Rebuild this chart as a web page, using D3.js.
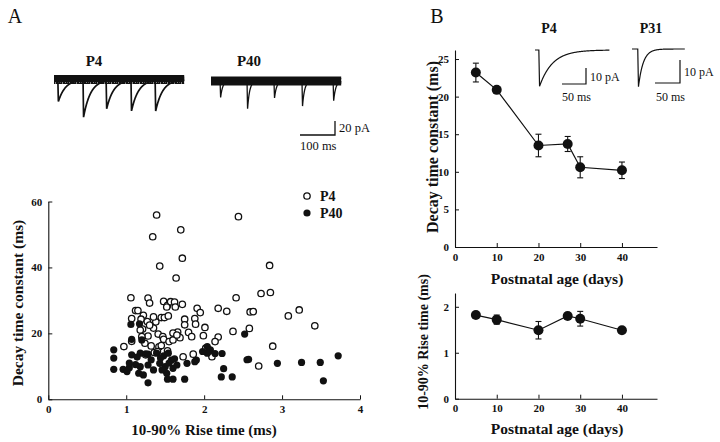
<!DOCTYPE html>
<html><head><meta charset="utf-8">
<script src="https://cdn.jsdelivr.net/npm/d3@7"></script>
<style>
body{margin:0;background:#fff}
svg{display:block}
text{font-family:"Liberation Serif","Times New Roman",serif;fill:#111}
</style>
</head><body><svg id="c" width="720" height="442"></svg>
<script>
// ---------- DATA ----------
// Panel A scatter: [rise time (ms), decay time constant (ms)]
const p4Points = [
 [1.39,55.9],[2.44,55.4],[1.70,51.4],[1.34,49.3],[1.72,42.8],[1.43,40.4],[2.84,40.6],[1.64,36.8],
 [1.06,30.8],[1.28,30.7],[1.30,29.2],[1.48,29.7],[1.53,28.5],[1.57,29.6],[1.62,29.5],[1.63,28.0],[1.72,28.8],[1.52,28.0],
 [2.41,30.8],[2.73,32.1],[2.85,32.4],
 [1.12,26.9],[1.15,26.9],[1.22,25.5],[1.07,24.5],[1.19,24.3],[1.27,23.6],[1.35,21.6],[1.21,21.3],[1.38,23.5],[1.45,24.8],[1.49,24.8],[1.54,25.3],
 [1.41,19.8],[1.28,19.2],[1.47,19.0],[1.48,18.2],[1.55,17.5],[1.24,17.0],[0.97,16.0],[1.32,16.2],[1.42,15.9],[1.36,14.2],[1.53,14.7],[1.07,17.6],
 [1.75,24.3],[1.75,22.6],[1.88,24.5],[1.89,22.8],[1.80,20.3],[1.66,20.4],[1.69,18.7],[1.84,19.0],[1.60,20.1],
 [1.91,27.6],[1.95,26.3],[2.01,21.8],[1.99,19.3],[2.18,27.6],[2.29,26.7],[2.18,18.9],[2.14,17.5],[2.02,15.5],[2.10,12.9],[1.86,13.7],[1.73,12.9],
 [2.37,20.6],[2.59,26.5],[2.63,26.6],[2.58,21.5],[3.08,25.3],[3.22,27.1],[3.42,22.3],[2.88,16.1],[2.70,10.1],
 [1.18,21.0],[1.30,22.5],[1.25,13.5],[1.40,14.5],[1.45,16.3],[1.60,18.0],[1.65,19.5],[1.35,25.0],[1.20,19.0]
];
const p40Points = [
 [1.06,22.7],[1.17,22.9],[1.07,18.2],[1.20,18.0],[0.84,15.0],[0.84,12.5],[0.84,9.1],[0.96,9.1],[1.01,8.4],[1.04,9.6],
 [1.07,13.5],[1.04,11.0],[1.18,14.0],[1.25,13.8],[1.28,13.7],[1.18,9.9],[1.16,7.9],[1.22,7.4],[1.28,10.4],[1.35,8.9],
 [1.28,5.0],[1.39,14.0],[1.48,13.2],[1.50,9.9],[1.52,7.9],[1.53,6.1],[1.58,11.9],[1.60,9.4],[1.60,6.1],[1.65,10.4],
 [1.75,6.1],[1.78,10.9],[1.88,11.4],[1.90,11.9],[1.54,14.0],[1.43,10.9],[1.46,8.9],[1.12,10.5],[1.14,12.8],[1.32,12.0],
 [1.44,12.5],[1.55,11.0],[1.62,12.3],
 [2.52,19.8],[2.04,16.0],[2.08,15.0],[2.04,14.0],[2.14,13.9],[2.23,13.9],[2.25,9.3],[2.22,6.8],[2.36,6.8],
 [2.55,12.0],[2.57,12.1],[2.94,10.9],[3.25,11.2],[3.49,11.2],[3.72,13.2],[3.53,5.6],[1.98,14.5]
];
const scatterXTicks = [0,1,2,3,4];
const scatterYTicks = [0,20,40,60];
const legendLabels = ["P4","P40"];

// Panel B: postnatal age vs mean ± error
const ages = [5,10,20,27,30,40];
const decayMean = [23.2,20.9,13.5,13.7,10.6,10.2];
const decayErr  = [1.25,0.35,1.5,1.0,1.4,1.1];
const riseMean  = [1.82,1.72,1.49,1.80,1.74,1.49];
const riseErr   = [0.07,0.10,0.19,0.07,0.16,0.06];
const ageTicks   = [0,10,20,30,40];
const decayTicks = [0,5,10,15,20,25];
const riseTicks  = [0,1,2];

// Example traces: event onset (ms), amplitude (pA), decay tau (ms)
const traceP4Onsets = [11,83,149,220,289];
const traceP4Amps   = [34,57,43,47,47];
const traceP4Tau    = 20;
const traceP40Onsets = [26,103,180,260,349];
const traceP40Amps   = [30,51,31,46,36];
const traceP40Tau    = 6;
const traceLength    = 372; // ms
const insetP4  = {onset:8,  amp:24, tau:27, length:155};
const insetP31 = {onset:12, amp:19, tau:10, length:110};

// ---------- DRAW ----------
const svg = d3.select("#c");
const black = "#111";

// texture for the noisy baseline band of the recordings
const pat = svg.append("defs").append("pattern").attr("id","noise")
  .attr("patternUnits","userSpaceOnUse").attr("width",7).attr("height",9);
[[0.5,1,8],[1.5,0,6.5],[2.5,2,9],[3.5,0.5,7.5],[4.5,1.5,8.5],[5.5,0,7],[6.5,2.5,8]].forEach(s =>
  pat.append("line").attr("x1",s[0]).attr("x2",s[0]).attr("y1",s[1]).attr("y2",s[2])
     .attr("stroke",black).attr("stroke-width",1.1));

function axis(gen, g, ticks, fs) {
  g.call(gen.tickValues(ticks).tickSizeInner(-4).tickSizeOuter(0).tickPadding(6).tickFormat(d3.format("d")));
  g.select(".domain").attr("stroke", black).attr("stroke-width", 1.1);
  g.selectAll(".tick line").attr("stroke", black).attr("stroke-width", 1);
  g.selectAll(".tick text").attr("font-size", fs).attr("font-weight", "bold")
    .attr("font-family", '"Liberation Serif",serif').attr("fill", black);
}
function label(x, y, txt, fs, opts = {}) {
  const t = svg.append("text").attr("x", x).attr("y", y).text(txt)
    .attr("font-size", fs).attr("font-weight", opts.weight || "bold")
    .attr("text-anchor", opts.anchor || "middle").attr("dominant-baseline", "central");
  if (opts.rotate) t.attr("transform", `rotate(-90,${x},${y})`);
  return t;
}

// ---- Panel A scatter ----
const sx = d3.scaleLinear().domain([0,4]).range([48.3,360]);
const sy = d3.scaleLinear().domain([0,60]).range([399.3,201.5]);
axis(d3.axisBottom(sx), svg.append("g").attr("transform","translate(0,399.3)"), scatterXTicks, 11);
axis(d3.axisLeft(sy), svg.append("g").attr("transform","translate(48.3,0)"), scatterYTicks, 11);
svg.append("g").selectAll("circle").data(p4Points).join("circle")
  .attr("cx", d => sx(d[0])).attr("cy", d => sy(d[1])).attr("r", 3.2)
  .attr("fill", "#fff").attr("stroke", black).attr("stroke-width", 1.3);
svg.append("g").selectAll("circle").data(p40Points).join("circle")
  .attr("cx", d => sx(d[0])).attr("cy", d => sy(d[1])).attr("r", 3.6)
  .attr("fill", black);
label(17, 303, "Decay time constant (ms)", 15.5, {rotate:true});
label(204, 430, "10-90% Rise time (ms)", 15);
// legend
svg.append("circle").attr("cx",307).attr("cy",196).attr("r",3.2).attr("fill","#fff").attr("stroke",black).attr("stroke-width",1.3);
svg.append("circle").attr("cx",307).attr("cy",213).attr("r",3.6).attr("fill",black);
label(320, 196, legendLabels[0], 14, {anchor:"start"});
label(320, 213, legendLabels[1], 14, {anchor:"start"});

// ---- Panel A traces ----
function traceValues(onsets, amps, tau, len) {
  const pts = [];
  for (let t = 0; t <= len; t += 0.5) {
    let v = 0;
    onsets.forEach((t0, i) => {
      if (t >= t0) v -= amps[i] * Math.min(1, (t - t0) / 1.5) * Math.exp(-(t - t0) / tau);
    });
    pts.push([t, v]);
  }
  return pts;
}
function drawTrace(x0, yBase, onsets, amps, tau, len, pxPerMs, pxPerPa, sw) {
  const tx = d3.scaleLinear().domain([0, len]).range([x0, x0 + len * pxPerMs]);
  const ty = d3.scaleLinear().domain([0, -60]).range([yBase, yBase + 60 * pxPerPa]);
  svg.append("rect").attr("x", tx(0)).attr("y", yBase - 4.5).attr("width", tx(len) - tx(0)).attr("height", 9).attr("fill", "url(#noise)");
  svg.append("rect").attr("x", tx(0)).attr("y", yBase - 3).attr("width", tx(len) - tx(0)).attr("height", 6).attr("fill", black);
  svg.append("path").datum(traceValues(onsets, amps, tau, len))
    .attr("d", d3.line().x(d => tx(d[0])).y(d => ty(d[1])))
    .attr("fill", "none").attr("stroke", black).attr("stroke-width", sw);
}
drawTrace(54, 79.5, traceP4Onsets, traceP4Amps, traceP4Tau, traceLength, 0.35, 0.7, 1.7);
drawTrace(211, 81, traceP40Onsets, traceP40Amps, traceP40Tau, traceLength, 0.35, 0.7, 1.3);
label(94, 61, "P4", 15);
label(249, 61, "P40", 15);
label(15, 16, "A", 20, {weight:"normal"});
// scale bar 100 ms / 20 pA
svg.append("path").attr("d","M300,135H335V121").attr("fill","none").attr("stroke",black).attr("stroke-width",1.3);
label(339, 128, "20 pA", 12.5, {anchor:"start", weight:"normal"});
label(300, 146, "100 ms", 12.5, {anchor:"start", weight:"normal"});

// ---- Panel B top ----
const bx = d3.scaleLinear().domain([0,48.4]).range([455,657]);
const by1 = d3.scaleLinear().domain([0,26.2]).range([247,50]);
axis(d3.axisBottom(bx), svg.append("g").attr("transform","translate(0,247)"), ageTicks, 11);
axis(d3.axisLeft(by1), svg.append("g").attr("transform","translate(455,0)"), decayTicks, 11);
function series(yScale, means, errs) {
  const g = svg.append("g");
  const data = ages.map((a, i) => ({a, m: means[i], e: errs[i]}));
  g.append("path").datum(data).attr("d", d3.line().x(d => bx(d.a)).y(d => yScale(d.m)))
    .attr("fill","none").attr("stroke",black).attr("stroke-width",1.2);
  const eb = g.selectAll("g.eb").data(data).join("g");
  eb.append("line").attr("x1", d => bx(d.a)).attr("x2", d => bx(d.a))
    .attr("y1", d => yScale(d.m - d.e)).attr("y2", d => yScale(d.m + d.e)).attr("stroke",black).attr("stroke-width",1.1);
  eb.append("line").attr("x1", d => bx(d.a) - 3).attr("x2", d => bx(d.a) + 3)
    .attr("y1", d => yScale(d.m + d.e)).attr("y2", d => yScale(d.m + d.e)).attr("stroke",black).attr("stroke-width",1.1);
  eb.append("line").attr("x1", d => bx(d.a) - 3).attr("x2", d => bx(d.a) + 3)
    .attr("y1", d => yScale(d.m - d.e)).attr("y2", d => yScale(d.m - d.e)).attr("stroke",black).attr("stroke-width",1.1);
  g.selectAll("circle").data(data).join("circle")
    .attr("cx", d => bx(d.a)).attr("cy", d => yScale(d.m)).attr("r", 5).attr("fill", black);
}
series(by1, decayMean, decayErr);
label(432, 147, "Decay time constant (ms)", 16, {rotate:true});
label(557, 278, "Postnatal age (days)", 15.5);
label(437, 16, "B", 20, {weight:"normal"});

// ---- Panel B bottom ----
const by2 = d3.scaleLinear().domain([0,2.3]).range([398.7,293]);
axis(d3.axisBottom(bx), svg.append("g").attr("transform","translate(0,398.7)"), ageTicks, 11);
axis(d3.axisLeft(by2), svg.append("g").attr("transform","translate(455,0)"), riseTicks, 11);
series(by2, riseMean, riseErr);
label(423, 342, "10-90% Rise time (ms)", 14, {rotate:true});
label(557, 428, "Postnatal age (days)", 15.5);

// ---- Panel B insets ----
function drawInset(x0, yBase, ev, pxPerPa) {
  const tx = d3.scaleLinear().domain([0, ev.length]).range([x0, x0 + ev.length * 0.48]);
  const ty = d3.scaleLinear().domain([0, -30]).range([yBase, yBase + 30 * pxPerPa]);
  svg.append("path").datum(traceValues([ev.onset], [ev.amp], ev.tau, ev.length))
    .attr("d", d3.line().x(d => tx(d[0])).y(d => ty(d[1])))
    .attr("fill","none").attr("stroke",black).attr("stroke-width",1.2);
}
drawInset(535, 50, insetP4, 1.6);
drawInset(632, 49, insetP31, 2.3);
label(549, 28, "P4", 14);
label(651, 28, "P31", 14);
svg.append("path").attr("d","M562,84H586V68").attr("fill","none").attr("stroke",black).attr("stroke-width",1.2);
label(590, 77, "10 pA", 12, {anchor:"start", weight:"normal"});
label(562, 97, "50 ms", 12, {anchor:"start", weight:"normal"});
svg.append("path").attr("d","M655,83H680V60").attr("fill","none").attr("stroke",black).attr("stroke-width",1.2);
label(684, 72, "10 pA", 12, {anchor:"start", weight:"normal"});
label(656, 97, "50 ms", 12, {anchor:"start", weight:"normal"});
</script>
</body></html>
